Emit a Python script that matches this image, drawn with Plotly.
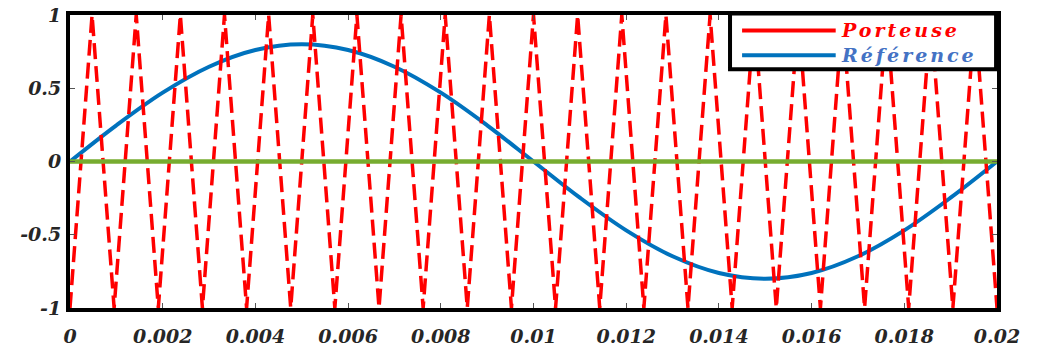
import plotly.graph_objects as go

# Carrier (triangle) vertices: times (s) and values
carrier_t = [0, 0.000476, 0.000952, 0.001429, 0.001905, 0.002381, 0.002857, 0.003333,
             0.003810, 0.004286, 0.004762, 0.005238, 0.005714, 0.006190, 0.006667,
             0.007143, 0.007619, 0.008095, 0.008571, 0.009048, 0.009524, 0.010000,
             0.010476, 0.010952, 0.011429, 0.011905, 0.012381, 0.012857, 0.013333,
             0.013810, 0.014286, 0.014762, 0.015238, 0.015714, 0.016190, 0.016667,
             0.017143, 0.017619, 0.018095, 0.018571, 0.019048, 0.019524, 0.020000]
carrier_v = [-1, 1, -1, 1, -1, 1, -1, 1, -1, 1, -1, 1, -1, 1, -1, 1, -1, 1, -1, 1, -1, 1,
             -1, 1, -1, 1, -1, 1, -1, 1, -1, 1, -1, 1, -1, 1, -1, 1, -1, 1, -1, 1, -1]

# Reference (sine) samples
ref_t = [0, 0.001, 0.002, 0.003, 0.004, 0.005, 0.006, 0.007, 0.008, 0.009, 0.010,
         0.011, 0.012, 0.013, 0.014, 0.015, 0.016, 0.017, 0.018, 0.019, 0.020]
ref_v = [0, 0.247, 0.470, 0.647, 0.761, 0.800, 0.761, 0.647, 0.470, 0.247, 0,
         -0.247, -0.470, -0.647, -0.761, -0.800, -0.761, -0.647, -0.470, -0.247, 0]

# Zero line
zero_t = [0, 0.02]
zero_v = [0, 0]

x_ticks = [0, 0.002, 0.004, 0.006, 0.008, 0.01, 0.012, 0.014, 0.016, 0.018, 0.02]
x_ticktext = ["0", "0.002", "0.004", "0.006", "0.008", "0.01", "0.012", "0.014", "0.016", "0.018", "0.02"]
y_ticks = [-1, -0.5, 0, 0.5, 1]
y_ticktext = ["-1", "-0.5", "0", "0.5", "1"]

legend_names = ["Porteuse", "Référence"]
legend_colors = ["#FF0000", "#4472C4"]
line_colors = ["#FF0000", "#0072BD"]

fig = go.Figure()
fig.add_trace(go.Scatter(x=ref_t, y=ref_v, mode="lines", line=dict(color="#0072BD", width=4, shape="spline"),
                         name="Référence", showlegend=False, hoverinfo="skip"))
fig.add_trace(go.Scatter(x=carrier_t, y=carrier_v, mode="lines",
                         line=dict(color="#FF0000", width=3.5, dash="16px,7px"),
                         name="Porteuse", showlegend=False, hoverinfo="skip"))
fig.add_trace(go.Scatter(x=zero_t, y=zero_v, mode="lines", line=dict(color="#77AC30", width=4.5),
                         showlegend=False, hoverinfo="skip"))

tickfont = dict(family="DejaVu Serif", size=19, color="#262626", weight="bold", style="italic")

fig.update_xaxes(range=[0, 0.02], tickvals=x_ticks, ticktext=x_ticktext, tickfont=tickfont,
                 showgrid=False, zeroline=False, showline=True, linecolor="black", linewidth=4,
                 mirror="allticks", ticks="inside", ticklen=5, tickwidth=1, tickcolor="#555",
                 ticklabelstandoff=8, automargin=False)
fig.update_yaxes(range=[-1, 1], tickvals=y_ticks, ticktext=y_ticktext, tickfont=tickfont,
                 showgrid=False, zeroline=False, showline=True, linecolor="black", linewidth=4,
                 mirror="allticks", ticks="inside", ticklen=5, tickwidth=1, tickcolor="#555",
                 ticklabelstandoff=1, automargin=False)

# Manual legend box
fig.add_shape(type="rect", xref="paper", yref="paper", x0=0.712, x1=0.999, y0=0.815, y1=1.005,
              line=dict(color="black", width=4), fillcolor="white", layer="above")
legend_y = [0.947, 0.863]
for lc, ly in zip(line_colors, legend_y):
    fig.add_shape(type="line", xref="paper", yref="paper", x0=0.725, x1=0.826, y0=ly, y1=ly,
                  line=dict(color=lc, width=4), layer="above")
legend_text = "<br>".join(
    f"<span style='color:{c};letter-spacing:3px'>{n}</span>" for n, c in zip(legend_names, legend_colors))
fig.add_annotation(xref="paper", yref="paper", x=0.831, y=(legend_y[0] + legend_y[1]) / 2, text=legend_text,
                   showarrow=False, xanchor="left", yanchor="middle", align="left", borderpad=0,
                   font=dict(family="DejaVu Serif", size=19, color="#FF0000", style="italic", weight="bold"))

fig.update_layout(width=1045, height=350, margin=dict(l=70, r=48, t=15, b=42),
                  plot_bgcolor="white", paper_bgcolor="white", showlegend=False)

fig.write_html("out.html", config={"displayModeBar": False},
               post_script="document.body.style.margin='0';")
